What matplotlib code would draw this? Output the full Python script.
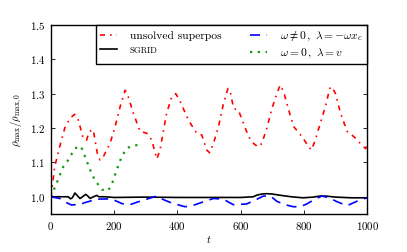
import matplotlib
matplotlib.use('Agg')
import matplotlib.pyplot as plt

plt.rcParams['font.family'] = 'cmr10'
plt.rcParams['mathtext.fontset'] = 'cm'
plt.rcParams['axes.formatter.use_mathtext'] = True
plt.rcParams['font.size'] = 7.8

# unsolved superposition (red)
t_sup = [0, 5, 12, 28, 44, 60, 75, 87, 102, 113, 121, 134, 147, 155, 166, 187, 203, 219, 235,
         245, 261, 282, 303, 319, 335, 345, 366, 382, 395, 409, 435, 461, 477, 493, 502, 514,
         530, 546, 560, 567, 578, 593, 609, 625, 641, 655, 667, 683, 699, 715, 725, 736, 752,
         768, 794, 815, 824, 836, 852, 868, 882, 889, 900, 916, 937, 958, 979, 995, 1000]
r_sup = [1.0, 1.034, 1.087, 1.146, 1.2, 1.228, 1.24, 1.223, 1.17, 1.165, 1.19, 1.195, 1.126,
         1.107, 1.117, 1.155, 1.204, 1.262, 1.31, 1.29, 1.243, 1.19, 1.185, 1.165, 1.11, 1.136,
         1.243, 1.29, 1.3, 1.277, 1.223, 1.185, 1.18, 1.136, 1.128, 1.155, 1.204, 1.272, 1.315,
         1.306, 1.257, 1.252, 1.214, 1.175, 1.155, 1.145, 1.155, 1.2, 1.257, 1.301, 1.325, 1.306,
         1.252, 1.204, 1.175, 1.146, 1.136, 1.165, 1.214, 1.262, 1.316, 1.32, 1.3, 1.243, 1.19,
         1.175, 1.155, 1.14, 1.15]

# SGRID (black)
t_sg = [0, 30, 55, 62, 68, 76, 84, 92, 100, 110, 117, 124, 132, 145, 152, 170, 200, 300, 400,
        500, 600, 640, 652, 668, 682, 700, 720, 760, 797, 830, 850, 870, 900, 950, 1000]
r_sg = [1.0, 1.0, 1.0, 0.994, 0.997, 1.011, 1.003, 0.995, 1.0, 1.007, 1.002, 0.995, 0.999, 1.004,
        1.0, 1.0, 0.998, 0.999, 0.998, 0.998, 0.998, 1.0, 1.005, 1.008, 1.009, 1.008, 1.005,
        1.0, 0.997, 0.999, 1.002, 1.002, 0.999, 0.997, 0.997]

# omega != 0, lambda = -omega x_c (blue)
t_om = [0, 28, 45, 65, 92, 108, 145, 190, 203, 225, 250, 275, 303, 334, 360, 382, 424, 450, 472,
        514, 545, 577, 619, 645, 672, 695, 714, 740, 767, 789, 809, 835, 857, 880, 904, 936, 978,
        1000]
r_om = [1.0, 0.995, 0.985, 0.976, 0.978, 0.983, 0.993, 0.994, 0.989, 0.98, 0.977, 0.985, 0.993,
        1.002, 0.99, 0.982, 0.971, 0.975, 0.982, 0.995, 0.993, 0.977, 0.979, 0.99, 1.002, 1.002,
        0.987, 0.977, 0.971, 0.971, 0.979, 0.993, 1.002, 0.997, 0.986, 0.974, 0.991, 0.997]

# omega = 0, lambda = v (green)
t_lv = [0, 18, 39, 55, 76, 95, 108, 124, 139, 161, 180, 192, 208, 224, 240, 256, 271, 285]
r_lv = [1.0, 1.039, 1.087, 1.107, 1.141, 1.147, 1.117, 1.078, 1.049, 1.021, 1.017, 1.034, 1.078,
        1.117, 1.141, 1.148, 1.15, 1.151]

fig = plt.figure(figsize=(4.07, 2.52), dpi=100)
ax = fig.add_axes([0.125, 0.151, 0.777, 0.750])

ax.plot(t_sup, r_sup, color='red', lw=1.2, ls=(0, (3, 3, 1, 3)), label='unsolved superpos')
ax.plot(t_sg, r_sg, color='black', lw=1.2, label='SGRID')
ax.plot(t_om, r_om, color='blue', lw=1.2, ls=(0, (6, 4)),
        label=r'$\omega \neq 0\,,\ \lambda = -\omega x_c$')
ax.plot(t_lv, r_lv, color='#119911', lw=1.6, ls=(0, (1, 2.5)),
        label=r'$\omega = 0\,,\ \lambda = v$')

ax.set_xlim(0, 1000)
ax.set_ylim(0.95, 1.5)
ax.set_xticks([0, 200, 400, 600, 800, 1000])
ax.set_yticks([1.0, 1.1, 1.2, 1.3, 1.4, 1.5])
ax.tick_params(direction='in', top=True, right=True, length=3, width=0.6, pad=4)
for s in ax.spines.values():
    s.set_linewidth(1.0)

ax.set_xlabel(r'$t$', labelpad=2)
ax.set_ylabel(r'$\rho_{\max}/\rho_{\max,0}$', labelpad=4)

leg = ax.legend(ncol=2, loc='upper right', borderaxespad=0, fancybox=False,
                edgecolor='black', framealpha=1, handlelength=1.5, handletextpad=1.1,
                columnspacing=2.5, labelspacing=0.3, borderpad=0.35, fontsize=8.3)
leg.get_frame().set_linewidth(1.0)
leg.get_texts()[1].set_fontsize(6.3)

fig.savefig('out.png', dpi=100)
